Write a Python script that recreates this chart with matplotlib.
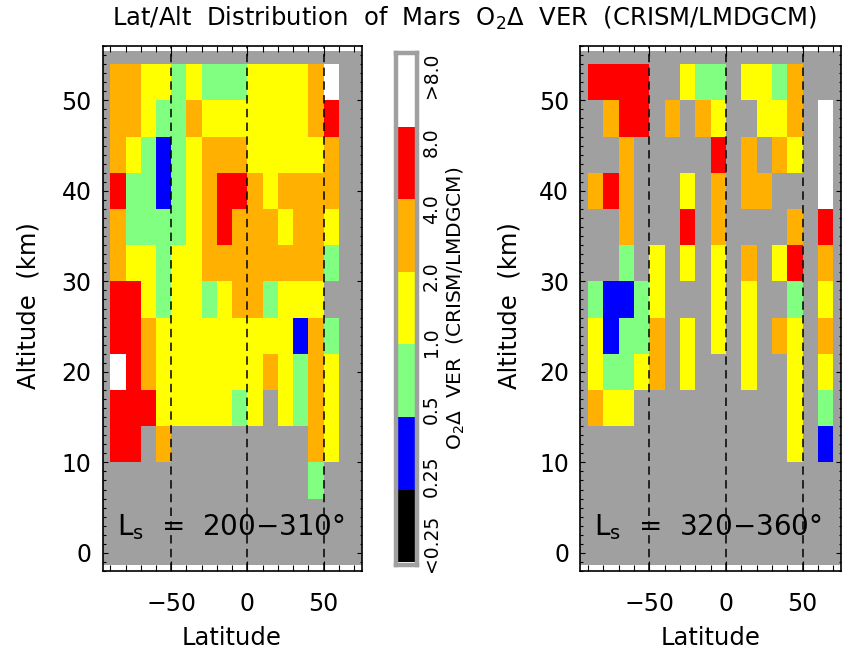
import numpy as np
import matplotlib
matplotlib.use("Agg")
import matplotlib.pyplot as plt
from matplotlib.colors import ListedColormap, BoundaryNorm
from matplotlib.ticker import MultipleLocator

# VER ratio classes: 0:<0.25 1:0.25-0.5 2:0.5-1 3:1-2 4:2-4 5:4-8 6:>8, '.' = no data
class_labels = ['<0.25', '0.25', '0.5', '1.0', '2.0', '4.0', '8.0', '>8.0']
class_colors = ['#000000', '#0000FF', '#80FF80', '#FFFF00', '#FFB000', '#FF0000', '#FFFFFF']
nodata_color = '#A0A0A0'

lat_centers = [-85, -75, -65, -55, -45, -35, -25, -15, -5, 5, 15, 25, 35, 45, 55, 65]
alt_centers = [52, 48, 44, 40, 36, 32, 28, 24, 20, 16, 12, 8]

# Ls = 200-310, rows from top (52 km) to bottom (8 km)
ver_ls200 = [
    "443323222333346.",
    "443224333333345.",
    "432123444333334.",
    "522123455434444.",
    "422223454443443.",
    "433233444444442.",
    "55323323442333..",
    "554333333333142.",
    "654333333343243.",
    "5553333323.3243.",
    "55.4.........43.",
    ".............2..",
]

# Ls = 320-360
ver_ls320 = [
    "5555..322.3324..",
    ".455.4.43..334.6",
    "..4.....5.4.43.6",
    "454...3.4.44...6",
    "..4...5.4....4.5",
    "..2.3.3.3.4.35.4",
    "21123...3.3..2.3",
    "31224.3.3.3.43.4",
    "32234.3...3..3.3",
    "433..........3.2",
    ".............3.1",
    "................",
]

panel_texts = ['L$_\\mathrm{s}$  =  200\u2212310\u00b0', 'L$_\\mathrm{s}$  =  320\u2212360\u00b0']


def to_grid(rows):
    g = np.array([[np.nan if c == '.' else float(c) for c in r] for r in rows])
    return np.ma.masked_invalid(g)


def edges(centers):
    c = np.array(sorted(centers), dtype=float)
    step = c[1] - c[0]
    return np.concatenate([c - step / 2, [c[-1] + step / 2]])


plt.rcParams['font.family'] = ['DejaVu Sans']
cmap = ListedColormap(class_colors)
norm = BoundaryNorm(np.arange(-0.5, 7.5, 1), cmap.N)

W, H = 850, 651
fig = plt.figure(figsize=(W / 100, H / 100), dpi=100)

ax1 = fig.add_axes([102.7 / W, 80 / H, 259 / W, 525 / H])
ax2 = fig.add_axes([580.3 / W, 80 / H, 260.7 / W, 525 / H])

xe = edges(lat_centers)
ye = edges(alt_centers)

for ax, rows, txt in [(ax1, ver_ls200, panel_texts[0]), (ax2, ver_ls320, panel_texts[1])]:
    grid = to_grid(rows)[::-1]  # bottom-up
    ax.axhspan(-1.3, 55.4, color=nodata_color, lw=0, zorder=0)
    ax.pcolormesh(xe, ye, grid, cmap=cmap, norm=norm, zorder=1)
    for x in [-50, 0, 50]:
        ax.axvline(x, color='black', lw=1.1, dashes=(5.5, 3.5), zorder=2)
    ax.set_xlim(-95, 75)
    ax.set_ylim(-2, 56)
    ax.set_xticks([-50, 0, 50])
    ax.set_xticklabels(['\u221250', '0', '50'])
    ax.xaxis.set_minor_locator(MultipleLocator(10))
    ax.set_yticks([0, 10, 20, 30, 40, 50])
    ax.yaxis.set_minor_locator(MultipleLocator(1))
    ax.tick_params(which='both', direction='in', top=True, right=True,
                   width=0.8, labelsize=17, zorder=3)
    ax.tick_params(axis='x', which='major', length=7, pad=15)
    ax.tick_params(axis='x', which='minor', length=4)
    ax.tick_params(axis='y', which='major', length=3.6, pad=8)
    ax.tick_params(axis='y', which='minor', length=1.8)
    for s in ax.spines.values():
        s.set_linewidth(1.2)
        s.set_zorder(4)
    ax.text(0.054, 0.0686, txt, transform=ax.transAxes, fontsize=20,
            ha='left', va='baseline', zorder=5)

# axis labels
fig.text(232 / W, 1 - 645 / H, 'Latitude', fontsize=17.5, ha='center', va='baseline')
fig.text(711 / W, 1 - 645 / H, 'Latitude', fontsize=17.5, ha='center', va='baseline')
fig.text(28.5 / W, 1 - 306 / H, 'Altitude  (km)', fontsize=17.5, rotation=90,
         ha='center', va='center')
fig.text(509 / W, 1 - 306 / H, 'Altitude  (km)', fontsize=17.5, rotation=90,
         ha='center', va='center')

# title
fig.text(464 / W, 1 - 18 / H,
         'Lat/Alt  Distribution  of  Mars  O$_2$\u0394  VER  (CRISM/LMDGCM)',
         fontsize=17.5, ha='center', va='center')

# colour bar
cax = fig.add_axes([395.5 / W, (H - 564.5) / H, 21 / W, 511.5 / H])
cax.imshow(np.arange(len(class_colors)).reshape(-1, 1), cmap=cmap, norm=norm,
           origin='lower', aspect='auto', extent=(0, 1, 0, len(class_colors)))
cax.set_xlim(0, 1)
cax.set_ylim(-2.5 / 72.43, 7 + 2 / 72.43)
cax.set_xticks([])
cax.set_yticks([])
for s in cax.spines.values():
    s.set_color('#A0A0A0')
    s.set_linewidth(3.2)
label_pos = np.linspace(0.26, 6.72, len(class_labels))
for lab, yp in zip(class_labels, label_pos):
    cax.text(1.71, yp, lab, transform=cax.get_yaxis_transform(), rotation=90,
             fontsize=13.5, ha='center', va='center')
fig.text(456 / W, 1 - 308.5 / H, 'O$_2$\u0394  VER  (CRISM/LMDGCM)', fontsize=14.5,
         rotation=90, ha='center', va='center')

fig.savefig('out.png', dpi=100)
